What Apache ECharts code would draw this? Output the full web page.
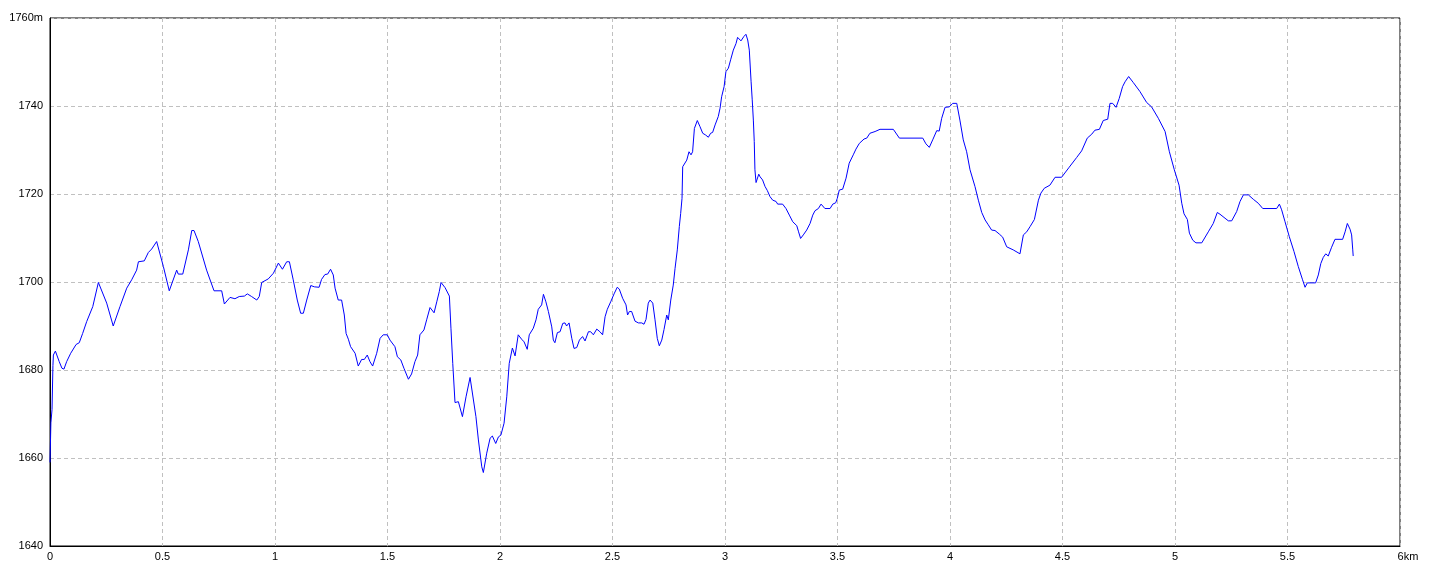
<!DOCTYPE html>
<html>
<head>
<meta charset="utf-8">
<script src="https://cdn.jsdelivr.net/npm/echarts@6/dist/echarts.min.js"></script>
<style>
  html, body { margin: 0; padding: 0; background: #fff; }
  #chart { width: 1440px; height: 576px; }
</style>
</head>
<body>
<div id="chart"></div>
<script>
// distance along the track (km)
var distKm = [
  0, 0.004, 0.009, 0.013, 0.015, 0.024, 0.041, 0.053, 0.062, 0.074, 0.092, 0.116, 0.130, 0.145, 0.163, 0.190,
  0.215, 0.252, 0.281, 0.311, 0.341, 0.363, 0.385, 0.393, 0.419, 0.437, 0.452, 0.474, 0.504, 0.530, 0.563, 0.570,
  0.590, 0.615, 0.630, 0.640, 0.659, 0.696, 0.729, 0.763, 0.775, 0.800, 0.822, 0.841, 0.864, 0.877, 0.896, 0.919,
  0.930, 0.941, 0.970, 0.993, 1.015, 1.033, 1.052, 1.064, 1.081, 1.099, 1.114, 1.126, 1.141, 1.159, 1.175, 1.196,
  1.207, 1.222, 1.234, 1.247, 1.259, 1.267, 1.281, 1.296, 1.308, 1.316, 1.326, 1.336, 1.356, 1.370, 1.385, 1.397,
  1.410, 1.422, 1.434, 1.452, 1.467, 1.481, 1.499, 1.511, 1.533, 1.544, 1.559, 1.573, 1.593, 1.607, 1.622, 1.634,
  1.644, 1.662, 1.674, 1.689, 1.707, 1.719, 1.730, 1.738, 1.756, 1.775, 1.782, 1.790, 1.800, 1.815, 1.833, 1.849,
  1.867, 1.874, 1.893, 1.904, 1.919, 1.926, 1.941, 1.956, 1.966, 1.981, 1.993, 2.004, 2.018, 2.030, 2.041, 2.055,
  2.067, 2.081, 2.096, 2.107, 2.121, 2.130, 2.148, 2.160, 2.170, 2.185, 2.193, 2.204, 2.215, 2.230, 2.237, 2.244,
  2.255, 2.267, 2.279, 2.289, 2.296, 2.307, 2.319, 2.329, 2.341, 2.353, 2.367, 2.378, 2.393, 2.403, 2.415, 2.430,
  2.444, 2.456, 2.467, 2.477, 2.492, 2.507, 2.521, 2.530, 2.545, 2.560, 2.567, 2.575, 2.585, 2.600, 2.615, 2.630,
  2.640, 2.649, 2.659, 2.667, 2.679, 2.689, 2.699, 2.708, 2.719, 2.729, 2.741, 2.748, 2.759, 2.770, 2.778, 2.788,
  2.797, 2.803, 2.809, 2.812, 2.830, 2.840, 2.849, 2.856, 2.864, 2.877, 2.889, 2.901, 2.914, 2.926, 2.936, 2.945,
  2.956, 2.970, 2.978, 2.985, 2.996, 3.004, 3.015, 3.025, 3.037, 3.049, 3.056, 3.064, 3.071, 3.084, 3.093, 3.101,
  3.108, 3.116, 3.121, 3.126, 3.130, 3.133, 3.138, 3.144, 3.150, 3.156, 3.167, 3.178, 3.188, 3.200, 3.212, 3.227,
  3.234, 3.256, 3.271, 3.286, 3.301, 3.319, 3.327, 3.336, 3.348, 3.363, 3.378, 3.390, 3.400, 3.415, 3.427, 3.444,
  3.467, 3.479, 3.492, 3.499, 3.508, 3.523, 3.538, 3.552, 3.570, 3.582, 3.597, 3.618, 3.630, 3.644, 3.667, 3.689,
  3.748, 3.775, 3.879, 3.893, 3.908, 3.923, 3.941, 3.952, 3.963, 3.978, 3.997, 4.012, 4.030, 4.044, 4.059, 4.074,
  4.089, 4.111, 4.126, 4.141, 4.156, 4.170, 4.185, 4.200, 4.219, 4.234, 4.252, 4.281, 4.311, 4.326, 4.341, 4.356,
  4.375, 4.393, 4.404, 4.419, 4.444, 4.467, 4.496, 4.530, 4.563, 4.585, 4.610, 4.630, 4.644, 4.664, 4.681, 4.701,
  4.711, 4.723, 4.738, 4.752, 4.767, 4.778, 4.794, 4.815, 4.844, 4.874, 4.896, 4.926, 4.956, 4.975, 4.997, 5.018,
  5.030, 5.040, 5.055, 5.064, 5.079, 5.093, 5.119, 5.148, 5.170, 5.188, 5.200, 5.237, 5.252, 5.274, 5.289, 5.304,
  5.326, 5.348, 5.370, 5.390, 5.452, 5.464, 5.474, 5.489, 5.508, 5.529, 5.548, 5.567, 5.578, 5.588, 5.625, 5.637,
  5.648, 5.659, 5.670, 5.681, 5.696, 5.711, 5.745, 5.756, 5.766, 5.778, 5.785, 5.790, 5.792
];
// elevation (m)
var elevM = [
  1659, 1668, 1671, 1681, 1683.4, 1684.3, 1681.9, 1680.4, 1680.2, 1681.9, 1683.8, 1685.8, 1686.2, 1688.3, 1691, 1694.4,
  1699.9, 1695.2, 1690, 1694.4, 1698.6, 1700.5, 1702.7, 1704.6, 1704.8, 1706.7, 1707.5, 1709.2, 1703.5, 1698, 1702.7, 1701.8,
  1701.8, 1707.3, 1711.7, 1711.7, 1709.2, 1702.7, 1698, 1698, 1695, 1696.5, 1696.2, 1696.7, 1696.8, 1697.3, 1696.7, 1695.9,
  1696.7, 1699.9, 1700.7, 1702, 1704.3, 1702.9, 1704.6, 1704.6, 1700.5, 1695.9, 1692.9, 1692.9, 1695.9, 1699.2, 1698.9, 1698.8,
  1700.6, 1701.7, 1701.8, 1702.9, 1701.6, 1698.6, 1695.9, 1695.9, 1692.5, 1688.3, 1687, 1685.3, 1683.8, 1680.9, 1682.4, 1682.4,
  1683.4, 1681.9, 1680.9, 1683.8, 1687.2, 1688, 1688, 1686.8, 1685.3, 1683, 1682.3, 1680.4, 1677.9, 1679.1, 1681.9, 1683.4,
  1688, 1689.1, 1691.4, 1694.2, 1693, 1695.5, 1697.8, 1699.9, 1698.7, 1696.8, 1689.5, 1681.5, 1672.6, 1672.8, 1669.4, 1673.9,
  1678.3, 1677.9, 1669.4, 1664.1, 1658, 1656.7, 1661.1, 1664.5, 1665, 1663.3, 1664.8, 1665.2, 1667.9, 1673.9, 1681.5, 1685,
  1683.2, 1688, 1687, 1686.4, 1684.7, 1688, 1689.5, 1691.4, 1693.8, 1694.8, 1697.2, 1695.5, 1693.3, 1689.8, 1686.8, 1686.2,
  1688.5, 1688.7, 1690.6, 1690.7, 1690, 1690.7, 1687.2, 1684.9, 1685.1, 1686.8, 1687.6, 1686.6, 1688.7, 1688.7, 1688, 1689.3,
  1688.7, 1688, 1692.1, 1693.8, 1695.5, 1697.3, 1698.8, 1698.4, 1696.3, 1694.8, 1692.5, 1693.3, 1693.3, 1691.1, 1690.7, 1690.7,
  1690.4, 1691.5, 1695.2, 1695.9, 1695.2, 1691.4, 1687.2, 1685.5, 1686.8, 1689.2, 1692.5, 1691.4, 1695.9, 1699.3, 1703.1, 1707.3,
  1712.6, 1715.6, 1719, 1726.2, 1727.7, 1729.6, 1728.9, 1729.6, 1734.9, 1736.7, 1735.3, 1733.8, 1733.4, 1732.9, 1733.8, 1734,
  1735.7, 1737.6, 1739.5, 1742.1, 1744.4, 1747.8, 1748.6, 1750.5, 1752.7, 1754.2, 1755.6, 1755.6, 1754.8, 1755.8, 1756.3, 1755,
  1752.7, 1745.5, 1741.4, 1736.8, 1731.9, 1725.5, 1722.6, 1722.4, 1724.5, 1723.9, 1723.2, 1721.7, 1720.8, 1719.4, 1718.6, 1718.3,
  1717.7, 1717.7, 1716.7, 1715.2, 1713.7, 1712.8, 1711.4, 1709.9, 1710.7, 1711.8, 1713.3, 1715.2, 1716.2, 1716.7, 1717.7, 1716.7,
  1716.7, 1717.7, 1718, 1719, 1720.9, 1721.1, 1723.6, 1727, 1728.9, 1730.2, 1731.5, 1732.5, 1732.7, 1733.8, 1734.2, 1734.7,
  1734.7, 1732.7, 1732.7, 1731.4, 1730.6, 1732.3, 1734.4, 1734.3, 1737.2, 1739.7, 1739.8, 1740.6, 1740.6, 1736.8, 1732.3, 1729.6,
  1725.5, 1721.7, 1718.6, 1715.8, 1714.1, 1713, 1711.8, 1711.7, 1710.9, 1710.2, 1708, 1707.3, 1706.4, 1710.7, 1711.4, 1712.6,
  1714.2, 1718.6, 1720.2, 1721.3, 1722, 1723.8, 1723.8, 1726.1, 1728.3, 1729.8, 1732.7, 1733.6, 1734.5, 1734.7, 1736.7, 1737,
  1740.6, 1740.6, 1739.7, 1741.7, 1744.4, 1745.5, 1746.7, 1745.3, 1743.3, 1740.8, 1739.8, 1737.2, 1734.2, 1729.6, 1725.5, 1722,
  1717.9, 1715.5, 1714.2, 1711.1, 1709.5, 1708.9, 1708.9, 1711.4, 1713.3, 1715.8, 1715.4, 1713.9, 1713.9, 1716, 1718.3, 1719.8,
  1719.8, 1718.8, 1717.9, 1716.7, 1716.7, 1717.7, 1716.4, 1713.7, 1710.3, 1706.9, 1703.5, 1700.5, 1698.8, 1699.8, 1699.8, 1701.6,
  1704.2, 1705.6, 1706.4, 1705.9, 1707.9, 1709.7, 1709.7, 1711.4, 1713.3, 1712, 1710.7, 1707.3, 1705.9
];
// axis ranges and units
var xMin = 0, xMax = 6, xStep = 0.5, xUnit = "km";
var yMin = 1640, yMax = 1760, yStep = 20, yUnit = "m";

var points = distKm.map(function (d, i) {
  return [d, elevM[i]];
});

var myChart = echarts.init(document.getElementById("chart"), null, { renderer: "canvas" });
var labelFont = "'Liberation Sans', Arial, sans-serif";
var option = {
  animation: false,
  backgroundColor: "#fff",
  grid: {
    left: 50,
    right: 40,
    top: 18,
    bottom: 30,
    show: true,
    borderColor: "#000",
    borderWidth: 1,
  },
  xAxis: {
    type: "value",
    min: xMin,
    max: xMax,
    interval: xStep,
    axisLine: { show: true, lineStyle: { color: "#000", width: 1 } },
    axisTick: { show: false },
    splitLine: {
      show: true,
      lineStyle: { color: "#c0c0c0", type: [4, 3], width: 1 },
    },
    axisLabel: {
      color: "#000",
      fontSize: 11,
      fontFamily: labelFont,
      margin: 5,
      showMinLabel: true,
      showMaxLabel: true,
      formatter: function (v) {
        return v === xMax ? "{u|" + v + xUnit + "}" : String(v);
      },
      rich: {
        u: { color: "#000", fontSize: 11, fontFamily: labelFont, padding: [0, 0, 0, 16] },
      },
    },
  },
  yAxis: {
    type: "value",
    min: yMin,
    max: yMax,
    interval: yStep,
    axisLine: { show: true, lineStyle: { color: "#000", width: 1 } },
    axisTick: { show: false },
    splitLine: {
      show: true,
      lineStyle: { color: "#c0c0c0", type: [4, 3], width: 1 },
    },
    axisLabel: {
      color: "#000",
      fontSize: 11,
      fontFamily: labelFont,
      margin: 7,
      showMinLabel: true,
      showMaxLabel: true,
      formatter: function (v) {
        return v === yMax ? v + yUnit : String(v);
      },
    },
  },
  series: [
    {
      type: "line",
      data: points,
      showSymbol: false,
      smooth: false,
      lineStyle: { color: "#0000ff", width: 1 },
      itemStyle: { color: "#0000ff" },
    },
  ],
};
myChart.setOption(option);
window.addEventListener("resize", myChart.resize);
</script>
</body>
</html>
